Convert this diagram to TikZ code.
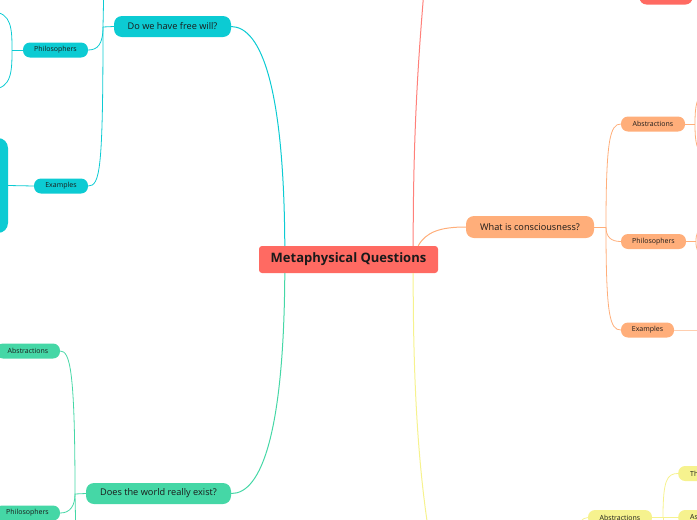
\documentclass[tikz,border=0pt]{standalone}
\usepackage{fontspec}
\setmainfont{Open Sans}
\usetikzlibrary{positioning}
\definecolor{rootred}{HTML}{FF6A62}
\definecolor{tealc}{HTML}{0CCBD3}
\definecolor{greenc}{HTML}{45D7A6}
\definecolor{orangec}{HTML}{FFAE7A}
\definecolor{yellowc}{HTML}{F6F28E}
\definecolor{ink}{HTML}{1A1A1A}

\begin{document}
\begin{tikzpicture}[x=1pt, y=-1pt,
  every node/.append style={text=ink, inner sep=0pt},
  rootbox/.style={fill=rootred, rounded corners=3pt, minimum width=179pt, minimum height=27pt, font=\bfseries\fontsize{13}{15}\selectfont},
  topic/.style={rounded corners=8pt, minimum height=21pt, font=\fontsize{9.2}{11}\selectfont},
  sub/.style={rounded corners=7pt, minimum height=15pt, font=\fontsize{7}{8}\selectfont},
  main/.style={line width=1pt},
  br/.style={line width=0.8pt}]
\useasboundingbox (0,0) rectangle (697,520);
\clip (0,0) rectangle (697,520);
\node[rootbox] (root) at (348.5,259.5) {Metaphysical Questions};
\node[topic, fill=tealc, minimum width=117pt] (free) at (172.5,26.5) {Do we have free will?};
\node[sub, fill=tealc, minimum width=65pt] (tphil) at (55.5,50) {Philosophers};
\node[sub, fill=tealc, minimum width=54pt] (tex) at (61,186) {Examples};
\node[fill=tealc, rounded corners=10pt, minimum width=40pt, minimum height=95pt] (tbig) at (-12,185.5) {};
\node[topic, fill=greenc, minimum width=145pt] (world) at (158.5,493.5) {Does the world really exist?};
\node[sub, fill=greenc, minimum width=64pt] (gabs) at (28,351) {Abstractions};
\node[sub, fill=greenc, minimum width=65pt] (gphil) at (27.5,513) {Philosophers};
\node[topic, fill=orangec, minimum width=128pt, minimum height=22pt] (conc) at (530,227) {What is consciousness?};
\node[sub, fill=orangec, minimum width=64pt] (oabs) at (653,124) {Abstractions};
\node[sub, fill=orangec, minimum width=65pt] (ophil) at (653.5,241.5) {Philosophers};
\node[sub, fill=orangec, minimum width=53pt] (oex) at (647.5,330) {Examples};
\node[sub, fill=rootred, minimum width=53pt] (rex) at (666,-3) {Examples};
\node[sub, fill=yellowc, minimum width=64pt] (yabs) at (620,517.5) {Abstractions};
\node[sub, fill=yellowc, anchor=west, minimum width=70pt, text width=58pt, align=left, inner xsep=12pt] (yth) at (678,473.5) {Th};
\node[sub, fill=yellowc, anchor=west, minimum width=70pt, text width=58pt, align=left, inner xsep=12pt] (yas) at (678,517.5) {As};
\coordinate (tfork) at (103,27);
\coordinate (tup) at (104,-20);
\coordinate (tpfork) at (12,50);
\coordinate (tpa) at (-8,12);
\coordinate (tpb) at (-8,89);
\coordinate (gfork) at (75,494);
\coordinate (gdown) at (76,540);
\coordinate (ofork) at (606,227);
\coordinate (oafork) at (695,124);
\coordinate (oaa) at (705,94);
\coordinate (oab) at (705,154);
\coordinate (opfork) at (696,241.5);
\coordinate (opa) at (705,228);
\coordinate (opb) at (705,255);
\coordinate (oeend) at (705,330);
\coordinate (rtop) at (424,-10);
\coordinate (ybot) at (430,540);
\coordinate (yleft) at (574,535);
\coordinate (yfork) at (663,517.5);
\coordinate (ydown) at (663,540);
\draw[main, tealc] ([xshift=26pt]root.north west) .. controls (284,90) and (262,27) .. (free.east);
\draw[br, tealc] (free.west) -- (tfork) -- (tup);
\draw[br, tealc] (tfork) .. controls (103,45) and (97,50) .. (tphil.east);
\draw[br, tealc] (tfork) .. controls (103,170) and (100,186) .. (tex.east);
\draw[br, tealc] (tphil.west) -- (tpfork);
\draw[br, tealc] (tpa) .. controls (12,12) and (12,30) .. (tpfork) .. controls (12,70) and (12,89) .. (tpb);
\draw[br, tealc] (tbig.east) -- (tex.west);
\draw[main, greenc] ([xshift=26pt]root.south west) .. controls (284,430) and (262,494) .. (world.east);
\draw[br, greenc] (world.west) -- (gfork) -- (gdown);
\draw[br, greenc] (gfork) .. controls (75,370) and (70,351) .. (gabs.east);
\draw[br, greenc] (gfork) .. controls (75,506) and (70,513) .. (gphil.east);
\draw[main, rootred!85] ([xshift=-25pt]root.north east) .. controls (413,120) and (420,40) .. (rtop);
\draw[main, orangec] ([xshift=-20pt]root.north east) .. controls (426,232) and (440,227) .. (conc.west);
\draw[br, orangec] (conc.east) -- (ofork);
\draw[br, orangec] (ofork) .. controls (606,140) and (610,124) .. (oabs.west);
\draw[br, orangec] (ofork) .. controls (606,237) and (611,241.5) .. (ophil.west);
\draw[br, orangec] (ofork) .. controls (606,316) and (610,330) .. (oex.west);
\draw[br, orangec] (oabs.east) -- (oafork);
\draw[br, orangec] (oaa) .. controls (697,96) and (695,104) .. (oafork) .. controls (695,144) and (697,152) .. (oab);
\draw[br, orangec] (ophil.east) -- (opfork);
\draw[br, orangec] (opa) .. controls (697,230) and (696,234) .. (opfork) .. controls (696,249) and (697,253) .. (opb);
\draw[br, orangec!60] (oex.east) -- (oeend);
\draw[main, yellowc] ([xshift=-25pt]root.south east) .. controls (413,400) and (420,480) .. (ybot);
\draw[br, yellowc] (yabs.west) .. controls (582,517.5) and (578,524) .. (yleft);
\draw[br, yellowc] (yabs.east) -- (yfork) -- (yas.west);
\draw[br, yellowc] (yfork) .. controls (663,480) and (667,473.5) .. (yth.west);
\draw[br, yellowc] (yfork) -- (ydown);
\end{tikzpicture}
\end{document}
